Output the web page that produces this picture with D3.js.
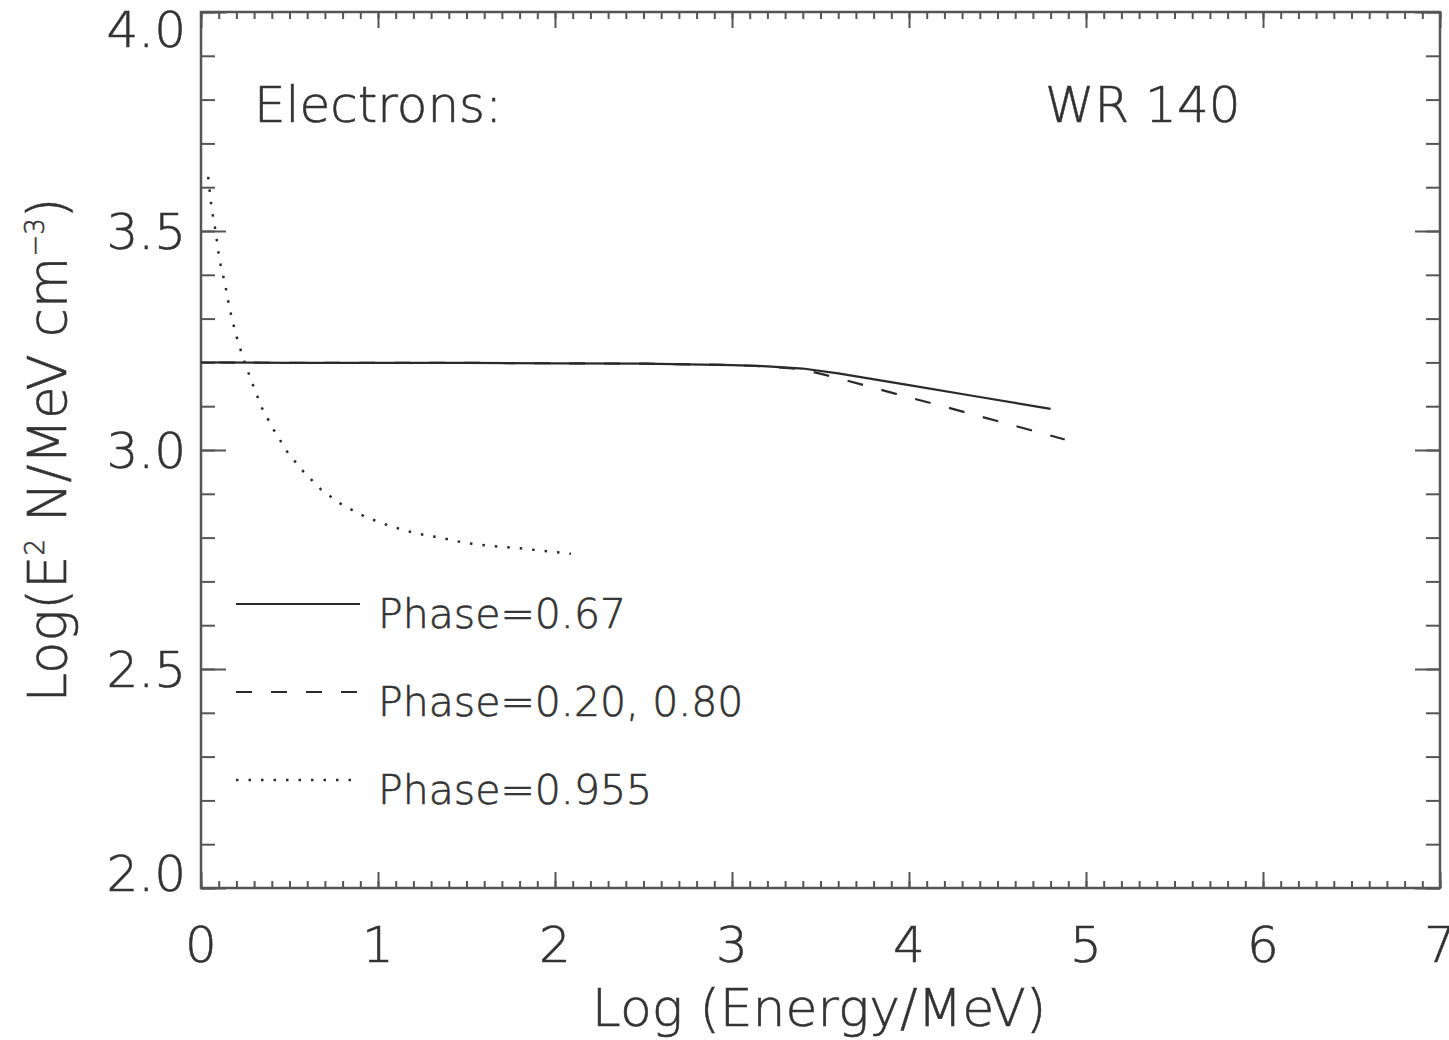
<!DOCTYPE html>
<html>
<head>
<meta charset="utf-8">
<script src="https://cdn.jsdelivr.net/npm/d3@7"></script>
<style>
  html, body { margin: 0; padding: 0; background: #fff; }
  svg { display: block; }
  text { font-family: "DejaVu Sans", sans-serif; font-weight: 200; fill: #333; stroke: #333; stroke-width: 0.6; }
</style>
</head>
<body>
<svg id="chart" width="1449" height="1040"></svg>
<script>
// Electron spectra, log(E^2 N) vs log(E), WR 140
const phase067 = [
  [0.00, 3.200], [0.50, 3.199], [1.00, 3.199], [1.50, 3.199], [2.00, 3.198],
  [2.50, 3.197], [3.00, 3.194], [3.20, 3.191], [3.40, 3.186], [3.60, 3.175],
  [4.00, 3.148], [4.40, 3.121], [4.80, 3.094]
];
const phase020080 = [
  [0.00, 3.200], [0.50, 3.199], [1.00, 3.199], [1.50, 3.199], [2.00, 3.198],
  [2.50, 3.197], [3.00, 3.194], [3.20, 3.191], [3.40, 3.184], [3.60, 3.164],
  [3.80, 3.142], [4.00, 3.120], [4.20, 3.099], [4.40, 3.077], [4.60, 3.055],
  [4.88, 3.024]
];
const phase0955 = [
  [0.040, 3.625], [0.060, 3.552], [0.085, 3.493], [0.103, 3.436], [0.136, 3.379],
  [0.162, 3.322], [0.196, 3.265], [0.242, 3.205], [0.290, 3.152], [0.343, 3.097],
  [0.411, 3.046], [0.490, 2.994], [0.580, 2.950], [0.680, 2.909], [0.800, 2.874],
  [0.930, 2.847], [1.070, 2.826], [1.210, 2.810], [1.350, 2.800], [1.490, 2.788],
  [1.640, 2.781], [1.790, 2.776], [1.930, 2.770], [2.090, 2.763]
];
const legendLabels = ["Phase=0.67", "Phase=0.20, 0.80", "Phase=0.955"];
const xTickValues = [0, 1, 2, 3, 4, 5, 6, 7];
const xTickLabels = ["0", "1", "2", "3", "4", "5", "6", "7"];
const yTickValues = [2.0, 2.5, 3.0, 3.5, 4.0];
const yTickLabels = ["2.0", "2.5", "3.0", "3.5", "4.0"];

const svg = d3.select("#chart");
const plotLeft = 201, plotRight = 1440, plotTop = 12, plotBottom = 888;
const x = d3.scaleLinear().domain([0, 7]).range([plotLeft, plotRight]);
const y = d3.scaleLinear().domain([2, 4]).range([plotBottom, plotTop]);

const axisColor = "#555";
const xMinor = d3.range(0, 7.0001, 0.1).map(v => +v.toFixed(1));
const yMinor = d3.range(2, 4.0001, 0.1).map(v => +v.toFixed(1));

function styleAxis(g) {
  g.select(".domain").remove();
  g.selectAll(".tick line").attr("stroke", axisColor).attr("stroke-width", 2);
  g.selectAll(".tick text").remove();
}

// bottom / top ticks
svg.append("g").attr("transform", `translate(0,${plotBottom})`)
  .call(d3.axisBottom(x).tickValues(xMinor).tickSize(-7).tickFormat("")).call(styleAxis);
svg.append("g").attr("transform", `translate(0,${plotBottom})`)
  .call(d3.axisBottom(x).tickValues(xTickValues).tickSize(-16).tickFormat("")).call(styleAxis);
svg.append("g").attr("transform", `translate(0,${plotTop})`)
  .call(d3.axisTop(x).tickValues(xMinor).tickSize(-7).tickFormat("")).call(styleAxis);
svg.append("g").attr("transform", `translate(0,${plotTop})`)
  .call(d3.axisTop(x).tickValues(xTickValues).tickSize(-16).tickFormat("")).call(styleAxis);

// left / right ticks
svg.append("g").attr("transform", `translate(${plotLeft},0)`)
  .call(d3.axisLeft(y).tickValues(yMinor).tickSize(-14).tickFormat("")).call(styleAxis);
svg.append("g").attr("transform", `translate(${plotLeft},0)`)
  .call(d3.axisLeft(y).tickValues(yTickValues).tickSize(-25).tickFormat("")).call(styleAxis);
svg.append("g").attr("transform", `translate(${plotRight},0)`)
  .call(d3.axisRight(y).tickValues(yMinor).tickSize(-14).tickFormat("")).call(styleAxis);
svg.append("g").attr("transform", `translate(${plotRight},0)`)
  .call(d3.axisRight(y).tickValues(yTickValues).tickSize(-25).tickFormat("")).call(styleAxis);

// frame
svg.append("rect")
  .attr("x", plotLeft).attr("y", plotTop)
  .attr("width", plotRight - plotLeft).attr("height", plotBottom - plotTop)
  .attr("fill", "none").attr("stroke", axisColor).attr("stroke-width", 2.5);

// tick labels
svg.append("g").selectAll("text").data(xTickValues).join("text")
  .attr("x", d => x(d)).attr("y", 962)
  .attr("text-anchor", "middle").attr("font-size", 50)
  .text((d, i) => xTickLabels[i]);

svg.append("g").selectAll("text").data(yTickValues).join("text")
  .attr("x", 186)
  .attr("y", (d, i) => {
    let c = y(d);
    if (i === 0) c -= 15;
    if (i === yTickValues.length - 1) c += 17;
    return c + 18;
  })
  .attr("text-anchor", "end").attr("font-size", 50)
  .text((d, i) => yTickLabels[i]);

// axis titles
svg.append("text")
  .attr("x", 819).attr("y", 1026)
  .attr("text-anchor", "middle").attr("font-size", 52)
  .text("Log (Energy/MeV)");

const yt = svg.append("text")
  .attr("transform", "translate(66,450) rotate(-90)")
  .attr("text-anchor", "middle").attr("font-size", 53);
yt.append("tspan").text("Log(E");
yt.append("tspan").attr("font-size", 26).attr("dy", -22).text("2");
yt.append("tspan").attr("dy", 22).text(" N/MeV cm");
yt.append("tspan").attr("font-size", 26).attr("dy", -22).text("−3");
yt.append("tspan").attr("dy", 22).text(")");

// annotations
svg.append("text").attr("x", 254).attr("y", 122).attr("font-size", 50).text("Electrons:");
svg.append("text").attr("x", 1045).attr("y", 122).attr("font-size", 50).text("WR 140");

// curves
const line = d3.line().x(d => x(d[0])).y(d => y(d[1]));
const series = [
  { data: phase067, dash: null, width: 2.2 },
  { data: phase020080, dash: [16, 19], width: 2.2 },
  { data: phase0955, dash: [2.5, 10], width: 2.5 }
];
const lineColor = "#2a2a2a";
const paths = svg.append("g").selectAll("path").data(series).join("path")
  .attr("d", d => line(d.data))
  .attr("fill", "none")
  .attr("stroke", lineColor)
  .attr("stroke-width", d => d.width)
  .attr("stroke-dasharray", d => d.dash ? d.dash.join(",") : null);

// shift the dash pattern so each dashed curve finishes on a dash
paths.each(function(d) {
  if (!d.dash) return;
  const L = this.getTotalLength();
  const period = d.dash[0] + d.dash[1];
  const off = ((d.dash[0] - 1 - L) % period + period) % period;
  d3.select(this).attr("stroke-dashoffset", off);
});

// legend
const legendY = [604, 692, 780];
const lg = svg.append("g");
series.forEach((s, i) => {
  lg.append("line")
    .attr("x1", 236).attr("x2", 360)
    .attr("y1", legendY[i]).attr("y2", legendY[i])
    .attr("stroke", lineColor)
    .attr("stroke-width", s.width)
    .attr("stroke-dasharray", s.dash ? s.dash.join(",") : null);
  lg.append("text")
    .attr("x", 378).attr("y", legendY[i] + 24)
    .attr("font-size", 41)
    .text(legendLabels[i]);
});
</script>
</body>
</html>
